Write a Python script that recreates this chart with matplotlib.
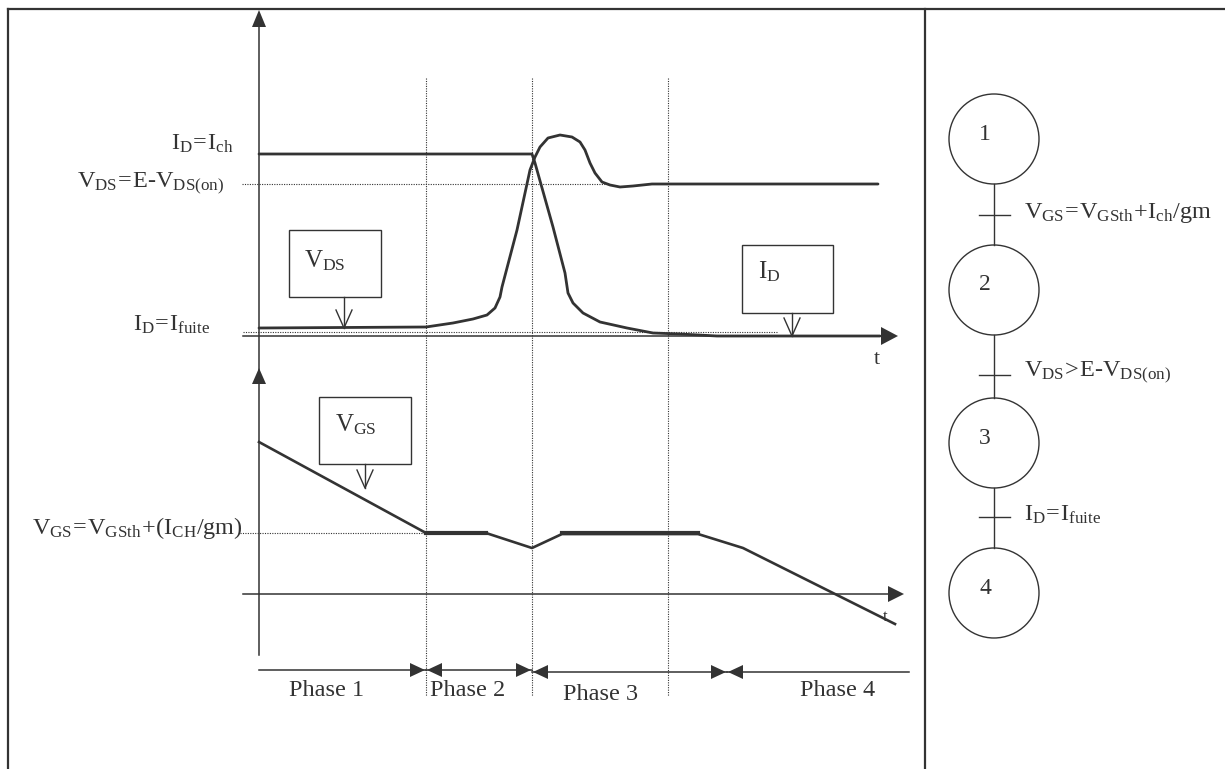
import matplotlib
matplotlib.use("Agg")
import matplotlib.pyplot as plt
from matplotlib.patches import Circle, Rectangle

plt.rcParams['font.family'] = ['Liberation Serif', 'DejaVu Serif']
plt.rcParams['mathtext.fontset'] = 'custom'
plt.rcParams['mathtext.rm'] = 'Liberation Serif'

W, H = 1225, 769
C = "#333333"

# --- data (picture coordinates, y pointing down) ---
# upper chart: drain current I_D
id_x = [259, 532, 535, 553, 565, 568, 573, 583, 600, 627, 653, 680, 717, 880]
id_y = [154, 154, 163, 227, 273, 293, 303, 313, 322, 328, 333, 334, 336, 336]
# upper chart: drain-source voltage V_DS
vds_x = [259, 426, 453, 473, 487, 495, 500, 502, 517, 530, 535, 540, 548, 560,
         572, 580, 585, 590, 595, 602, 610, 620, 633, 652, 878]
vds_y = [328, 327, 323, 319, 315, 308, 297, 287, 230, 170, 157, 147, 138, 135,
         137, 142, 150, 163, 173, 182, 185, 187, 186, 184, 184]
# lower chart: gate-source voltage V_GS
vgs_x = [259, 426, 486, 532, 562, 698, 743, 895]
vgs_y = [442, 533, 533, 548, 534, 534, 548, 624]
thick_vgs = [(426, 486), (562, 698)]

phase_x = [426, 532, 668]          # dotted phase separators
phase_arrow_x = [259, 426, 532, 727, 909]
phase_labels = ["Phase 1", "Phase 2", "Phase 3", "Phase 4"]
phase_label_x = [327, 468, 601, 838]
phase_label_y = [690, 690, 694, 690]

level_labels = [r"$\mathregular{I_{D}\!=\!I_{ch}}$",
                r"$\mathregular{V_{DS}\!=\!E\text{-}V_{DS(on)}}$",
                r"$\mathregular{I_{D}\!=\!I_{fuite}}$",
                r"$\mathregular{V_{GS}\!=\!V_{GSth}\!+\!(I_{CH}/gm)}$"]
level_y = [144, 184, 325, 528]
level_right = [233, 224, 210, 243]

steps = ["1", "2", "3", "4"]
step_y = [139, 290, 443, 593]
trans_y = [215, 375, 517]
trans_labels = [r"$\mathregular{V_{GS}\!=\!V_{GSth}\!+\!I_{ch}/gm}$",
                r"$\mathregular{V_{DS}\!>\!E\text{-}V_{DS(on)}}$",
                r"$\mathregular{I_{D}\!=\!I_{fuite}}$"]

fig = plt.figure(figsize=(W / 100, H / 100), dpi=100)
ax = fig.add_axes([0, 0, 1, 1])
ax.set_xlim(0, W)
ax.set_ylim(H, 0)
ax.axis("off")


def tri(x, y, d, L=16, hw=8):
    # filled arrow head, tip at (x, y)
    if d == "up":
        pts = [(x, y), (x - hw, y + L), (x + hw, y + L)]
    elif d == "right":
        pts = [(x, y), (x - L, y - hw), (x - L, y + hw)]
    else:
        pts = [(x, y), (x + L, y - hw), (x + L, y + hw)]
    ax.fill([p[0] for p in pts], [p[1] for p in pts], color=C, lw=0)


# frame
ax.plot([8, W], [9, 9], color=C, lw=1.6)
ax.plot([8, 8], [9, H], color=C, lw=1.6)
ax.plot([925, 925], [9, H], color=C, lw=1.6)

# axes
ax.plot([259, 259], [20, 655], color=C, lw=1.1)
tri(259, 10, "up", L=17, hw=7)
tri(259, 368, "up", L=16, hw=7)
ax.plot([243, 885], [336, 336], color=C, lw=1.1)
tri(898, 336, "right", L=17, hw=9)
ax.plot([243, 892], [594, 594], color=C, lw=1.1)
tri(904, 594, "right", L=16, hw=8)
ax.text(877, 360, "t", fontsize=16, color=C, ha="center", va="center")
ax.text(885, 617, "t", fontsize=12, color=C, ha="center", va="center")

# dotted guides
for x in phase_x:
    ax.plot([x, x], [78, 696], color=C, lw=0.8, ls=(0, (1, 1.2)))
ax.plot([242, 607], [184, 184], color=C, lw=0.8, ls=(0, (1, 1.2)))
ax.plot([243, 777], [332, 332], color=C, lw=0.8, ls=(0, (1, 1.2)))
ax.plot([240, 426], [533, 533], color=C, lw=0.8, ls=(0, (1, 1.2)))

# curves
ax.plot(id_x, id_y, color=C, lw=2.0, solid_joinstyle="round", solid_capstyle="round")
ax.plot(vds_x, vds_y, color=C, lw=2.0, solid_joinstyle="round", solid_capstyle="round")
ax.plot(vgs_x, vgs_y, color=C, lw=1.9, solid_joinstyle="round")
for a, b in thick_vgs:
    ax.plot([a, b], [533, 533], color=C, lw=3.0)

# boxes with pointers
boxes = [((289, 230, 92, 67), r"$\mathregular{V_{DS}}$", (325, 261), 344, 297, 328),
         ((742, 245, 91, 68), r"$\mathregular{I_{D}}$", (769, 272), 792, 313, 336),
         ((319, 397, 92, 67), r"$\mathregular{V_{GS}}$", (356, 425), 365, 464, 488)]
for (bx, by, bw, bh), lab, (tx, ty), ax_x, y0, y1 in boxes:
    ax.add_patch(Rectangle((bx, by), bw, bh, fill=False, ec=C, lw=1.0))
    ax.text(tx, ty, lab, fontsize=18, color=C, ha="center", va="center")
    ax.plot([ax_x, ax_x], [y0, y1], color=C, lw=1.0)
    ax.plot([ax_x - 8, ax_x, ax_x + 8], [y1 - 18, y1, y1 - 18], color=C, lw=1.0)

# level labels
for lab, y, xr in zip(level_labels, level_y, level_right):
    ax.text(xr, y, lab, fontsize=17.5, color=C, ha="right", va="center")

# phase arrows
for i in range(4):
    a, b = phase_arrow_x[i], phase_arrow_x[i + 1]
    y = 670 if i < 2 else 672
    ax.plot([a, b], [y, y], color=C, lw=1.1)
    if i < 3:
        tri(b - 1, y, "right", L=15, hw=7)
    if i > 0:
        tri(a + 1, y, "left", L=15, hw=7)
    ax.text(phase_label_x[i], phase_label_y[i], phase_labels[i], fontsize=17.5,
            color=C, ha="center", va="center")

# step diagram
cx, r = 994, 45
for s, y in zip(steps, step_y):
    ax.add_patch(Circle((cx, y), r, fill=False, ec=C, lw=1.0))
    ax.text(cx - 9, y - 5, s, fontsize=17, color=C, ha="center", va="center")
for i in range(3):
    ax.plot([cx, cx], [step_y[i] + r, step_y[i + 1] - r], color=C, lw=1.0)
for lab, y in zip(trans_labels, trans_y):
    ax.plot([979, 1010], [y, y], color=C, lw=1.0)
    ax.text(1024, y - 2, lab, fontsize=17.5, color=C, ha="left", va="center")

fig.savefig("out.png", dpi=100)
